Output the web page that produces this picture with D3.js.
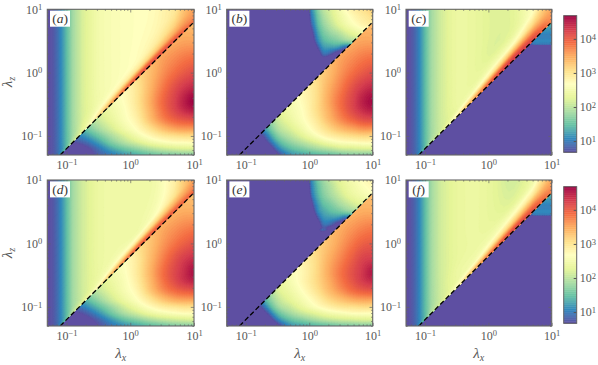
<!DOCTYPE html>
<html><head><meta charset="utf-8">
<script src="https://cdn.jsdelivr.net/npm/d3@7"></script>
<style>html,body{margin:0;background:#fff}svg{display:block}text{font-family:"Liberation Serif",serif;fill:#555;opacity:.99}</style>
</head><body><svg id="c" width="598" height="365"></svg>
<script>
const spectralStops=["#5e4fa2","#3288bd","#66c2a5","#abdda4","#e6f598","#ffffbf","#fee08b","#fdae61","#f46d43","#d53e4f","#9e0142"];
const vMin=0.67,vMax=4.68;
const majorTicks=[0.1,1,10];
const tickExponents=["\u22121","0","1"];
const barTicks=[10,100,1000,10000];
const barExponents=["1","2","3","4"];
const panelNames=["a","b","c","d","e","f"];
const diagonalRatio=0.63, diagonalEnds=[0.0794,9.6];
// upper-field grid: columns log10(lx), rows height above the diagonal
const UX=[-1.3,-1.2,-1.1,-1.0,-0.9,-0.75,-0.5,-0.2,0.1,0.4,0.7,0.85,1.0];
const UD=[0,.03,.07,.13,.25,.45,.8,1.3,1.8,2.55];
// lower-field grid: log10(lx), log10(lz)
const LX=[-1.1,-.9,-.7,-.5,-.3,-.1,.1,.3,.5,.7,.85,1];
const LZ=[-1.3,-1.2,-1.1,-1,-.9,-.75,-.6,-.45,-.25,0,.25,.5,.8];
// wedge grids
const WX=[-.1,-.02,.03,.08,.14,.22,.33,.45,.6,.75,.9,1];
const WZ=[.1,.2,.25,.3,.4,.5,.6,.75,.9,1];
const CX=[.6,.7,.85,1];
const CZ=[.4,.43,.45,.6,.8];
const upperA=[
[.68,.78,1.15,1.6,2.1,2.5,3.05,3.7,4.05,4.1,4.05,3.95,3.85],
[.68,.78,1.1,1.5,2.0,2.35,2.95,3.6,3.95,4.05,4.0,3.9,3.8],
[.68,.78,1.05,1.45,1.9,2.3,2.8,3.25,3.6,3.8,3.8,3.75,3.7],
[.68,.78,1.05,1.45,1.85,2.25,2.6,2.85,3.05,3.3,3.5,3.6,3.6],
[.68,.78,1.05,1.45,1.85,2.2,2.5,2.65,2.75,2.95,3.2,3.4,3.55],
[.68,.78,1.05,1.45,1.85,2.2,2.5,2.62,2.7,2.8,3.0,3.3,3.55],
[.68,.78,1.05,1.45,1.85,2.2,2.5,2.62,2.68,2.75,3.0,3.3,3.55],
[.68,.78,1.05,1.45,1.85,2.2,2.5,2.62,2.68,2.75,3.0,3.3,3.55],
[.68,.78,1.05,1.45,1.85,2.2,2.5,2.62,2.68,2.75,3.0,3.3,3.55],
[.68,.78,1.05,1.45,1.85,2.2,2.5,2.62,2.68,2.75,3.0,3.3,3.55]];
const lowerA=[
[.3,.35,.5,.8,1.0,1.2,1.35,1.5,1.6,1.65,1.7,1.7],
[.4,.4,.6,.95,1.3,1.55,1.75,1.95,2.1,2.2,2.25,2.25],
[.6,.7,.9,1.25,1.65,1.95,2.2,2.45,2.6,2.7,2.7,2.75],
[.8,.95,1.2,1.55,1.9,2.2,2.5,2.75,2.95,3.05,3.1,3.1],
[1.1,1.2,1.5,1.85,2.15,2.45,2.7,3.0,3.3,3.5,3.55,3.55],
[1.5,1.6,1.85,2.1,2.35,2.6,2.85,3.3,3.7,3.95,4.05,4.1],
[1.7,1.8,2.0,2.25,2.45,2.65,2.95,3.4,3.85,4.2,4.4,4.5],
[1.9,2.0,2.15,2.35,2.55,2.7,3.0,3.45,3.9,4.25,4.5,4.7],
[2.0,2.1,2.25,2.4,2.6,2.75,3.0,3.4,3.8,4.15,4.35,4.45],
[2.1,2.2,2.35,2.5,2.7,2.9,3.1,3.35,3.65,3.9,4.05,4.15],
[2.2,2.3,2.45,2.7,2.9,3,3.15,3.35,3.55,3.7,3.8,3.85],
[2.3,2.4,2.6,2.8,3,3.1,3.2,3.3,3.4,3.5,3.55,3.55],
[2.4,2.5,2.7,2.9,3.05,3.1,3.2,3.3,3.35,3.4,3.4,3.4]];
const wedgeB=[
[-1,-1,-1,-1,-1,-1,-1,-1,-1,-1,-1,-1],
[-1,-1,-1,-1,-.2,.2,-.1,-.5,-1,-1,-1,-1],
[-1,-1,-1,-.5,.2,.7,.5,.1,-.5,-.5,-.5,-.5],
[-1,-1,-1,-.2,.4,.95,.85,.45,.1,.1,.1,.1],
[-1,-1,-.6,.2,.8,1.2,1.25,1.2,.85,1.3,1.5,1.6],
[-1,-1,-.1,.65,1.1,1.4,1.55,1.65,1.8,1.95,2.05,2.15],
[-1,-.6,.3,.85,1.25,1.55,1.75,1.9,2.15,2.35,2.45,2.55],
[-1,-.1,.75,1.1,1.45,1.75,2.0,2.25,2.5,2.7,2.85,2.9],
[-1,.2,.95,1.25,1.6,1.9,2.15,2.4,2.65,2.85,3.0,3.1],
[-1,.45,1.05,1.35,1.7,2,2.2,2.45,2.75,2.95,3.1,3.2]];
const lowerB=[
[-1,-1,-.5,.6,1.15,1.3,1.4,1.5,1.6,1.7,1.7,1.7],
[-1,-1,-.1,1.0,1.45,1.65,1.85,2.0,2.15,2.2,2.25,2.25],
[-1,-.5,.5,1.35,1.75,2.0,2.25,2.5,2.65,2.7,2.75,2.75],
[-1,0,.85,1.65,2.0,2.3,2.6,2.85,3.0,3.1,3.15,3.15],
[-1,.3,1.2,1.9,2.2,2.5,2.8,3.1,3.35,3.5,3.6,3.6],
[-.5,.6,1.5,2.1,2.4,2.65,2.95,3.35,3.7,3.95,4.1,4.15],
[0,.9,1.7,2.25,2.5,2.7,3.05,3.45,3.85,4.2,4.4,4.5],
[.4,1.2,1.9,2.35,2.55,2.75,3.05,3.5,3.9,4.25,4.5,4.65],
[.8,1.5,2.0,2.4,2.6,2.8,3.05,3.45,3.8,4.15,4.35,4.45],
[1,1.7,2.1,2.5,2.7,2.9,3.1,3.35,3.65,3.9,4.05,4.15],
[1.2,1.8,2.2,2.6,2.8,3,3.15,3.35,3.55,3.7,3.8,3.85],
[1.4,1.9,2.3,2.7,2.9,3.1,3.2,3.3,3.4,3.5,3.55,3.55],
[1.5,2,2.4,2.8,3,3.1,3.2,3.3,3.35,3.4,3.4,3.4]];
const upperC=[
[.68,.78,1.15,1.6,2.05,2.3,2.9,3.6,4.1,4.3,4.2,3.95,3.7],
[.68,.78,1.1,1.5,1.95,2.2,2.75,3.45,4.0,4.25,4.15,3.95,3.7],
[.68,.78,1.05,1.45,1.9,2.15,2.55,3.1,3.65,4.0,4.0,3.85,3.65],
[.68,.78,1.05,1.45,1.85,2.15,2.4,2.65,3.05,3.5,3.7,3.65,3.6],
[.68,.78,1.05,1.45,1.85,2.15,2.4,2.4,2.55,2.75,3.15,3.35,3.5],
[.68,.78,1.05,1.45,1.85,2.15,2.4,2.35,2.25,2.35,2.7,3.1,3.45],
[.68,.78,1.05,1.45,1.85,2.15,2.4,2.35,2.25,2.3,2.7,3.1,3.45],
[.68,.78,1.05,1.45,1.85,2.15,2.4,2.35,2.25,2.3,2.7,3.1,3.45],
[.68,.78,1.05,1.45,1.85,2.15,2.4,2.35,2.25,2.3,2.7,3.1,3.45],
[.68,.78,1.05,1.45,1.85,2.15,2.4,2.35,2.25,2.3,2.7,3.1,3.45]];
const lowerC=[[-1,-1,-1,-1],[-1,-.2,-.2,-.2],[.3,.95,1,1],[.9,1,1.05,1.05],[1.3,1.3,1.4,1.4]];
const upperD=[
[.68,.78,1.15,1.6,2.05,2.45,2.9,3.55,3.95,4.0,4.0,3.95,4.0],
[.68,.78,1.1,1.5,2.0,2.3,2.75,3.4,3.85,3.95,3.95,3.9,3.9],
[.68,.78,1.05,1.45,1.9,2.2,2.55,3.05,3.5,3.7,3.75,3.75,3.75],
[.68,.78,1.05,1.45,1.85,2.15,2.45,2.7,2.9,3.2,3.45,3.55,3.65],
[.68,.78,1.05,1.45,1.85,2.15,2.4,2.5,2.5,2.7,3.05,3.3,3.55],
[.68,.78,1.05,1.45,1.85,2.15,2.4,2.45,2.45,2.55,2.9,3.25,3.55],
[.68,.78,1.05,1.45,1.85,2.15,2.4,2.45,2.45,2.5,2.9,3.25,3.55],
[.68,.78,1.05,1.45,1.85,2.15,2.4,2.45,2.45,2.5,2.9,3.25,3.55],
[.68,.78,1.05,1.45,1.85,2.15,2.4,2.45,2.45,2.5,2.9,3.25,3.55],
[.68,.78,1.05,1.45,1.85,2.15,2.4,2.45,2.45,2.5,2.9,3.25,3.55]];
const lowerD=[
[.3,.3,.45,.7,.95,1.15,1.3,1.45,1.55,1.65,1.7,1.7],
[.35,.4,.55,.85,1.2,1.5,1.7,1.9,2.05,2.15,2.2,2.25],
[.55,.6,.8,1.15,1.55,1.9,2.15,2.4,2.55,2.65,2.7,2.7],
[.8,.85,1.1,1.45,1.8,2.15,2.45,2.7,2.9,3.0,3.05,3.05],
[1.1,1.15,1.4,1.75,2.1,2.4,2.65,2.95,3.25,3.45,3.5,3.5],
[1.5,1.55,1.8,2.05,2.3,2.55,2.8,3.25,3.65,3.9,4.0,4.05],
[1.7,1.75,2.0,2.2,2.4,2.6,2.9,3.35,3.8,4.15,4.35,4.45],
[1.9,2.0,2.1,2.3,2.5,2.65,2.95,3.4,3.85,4.2,4.4,4.6],
[2.0,2.1,2.2,2.35,2.55,2.7,2.95,3.35,3.75,4.1,4.3,4.4],
[2.1,2.2,2.3,2.45,2.65,2.85,3.05,3.3,3.6,3.85,4.0,4.1],
[2.2,2.3,2.45,2.65,2.85,2.95,3.1,3.3,3.5,3.65,3.75,3.8],
[2.3,2.4,2.6,2.8,2.95,3.05,3.15,3.25,3.35,3.45,3.5,3.5],
[2.4,2.5,2.7,2.9,3,3.05,3.15,3.25,3.3,3.35,3.35,3.35]];
const wedgeE=[
[-1,-1,-1,-1,-1,-1,-1,-1,-1,-1,-1,-1],
[-1,-1,-1,-1,.45,.75,.3,-.3,-1,-1,-1,-1],
[-1,-1,-1,-.4,.3,.8,.55,.1,-.5,-.5,-.5,-.5],
[-1,-1,-1,-.2,.4,.95,.9,.5,.1,.1,.1,.1],
[-1,-1,-.6,.2,.8,1.15,1.2,1.15,.85,1.2,1.4,1.5],
[-1,-1,-.1,.65,1.1,1.3,1.45,1.55,1.7,1.85,1.95,2.0],
[-1,-.6,.3,.9,1.2,1.45,1.6,1.8,2.0,2.2,2.3,2.35],
[-1,-.1,.8,1.15,1.4,1.65,1.85,2.05,2.3,2.45,2.55,2.65],
[-1,.2,.95,1.25,1.5,1.75,1.95,2.2,2.4,2.55,2.7,2.75],
[-1,.45,1.05,1.3,1.6,1.8,2.05,2.25,2.45,2.6,2.75,2.8]];
const lowerE=[
[-1,-1,-.5,.55,1.15,1.3,1.4,1.5,1.6,1.65,1.7,1.7],
[-1,-1,0,1.05,1.5,1.7,1.9,2.05,2.15,2.2,2.25,2.25],
[-1,-.5,.55,1.45,1.85,2.1,2.3,2.5,2.6,2.7,2.7,2.7],
[-1,0,1.0,1.8,2.1,2.4,2.65,2.85,3.0,3.05,3.1,3.1],
[-1,.3,1.35,2.0,2.3,2.55,2.8,3.1,3.3,3.45,3.5,3.5],
[-.5,.6,1.6,2.2,2.45,2.7,3.0,3.35,3.65,3.9,4.0,4.05],
[0,.9,1.8,2.3,2.55,2.8,3.1,3.45,3.8,4.1,4.3,4.4],
[.4,1.2,1.95,2.4,2.6,2.8,3.1,3.5,3.85,4.15,4.35,4.55],
[.8,1.5,2.05,2.45,2.65,2.85,3.1,3.45,3.75,4.05,4.25,4.3],
[1,1.7,2.15,2.55,2.75,2.95,3.15,3.35,3.6,3.85,4,4.05],
[1.2,1.8,2.25,2.65,2.85,3.05,3.2,3.35,3.5,3.65,3.75,3.8],
[1.4,1.9,2.35,2.75,2.95,3.1,3.2,3.3,3.4,3.45,3.5,3.5],
[1.5,2,2.45,2.85,3,3.1,3.2,3.3,3.3,3.35,3.35,3.35]];
const upperF=[
[.68,.78,1.15,1.6,2.05,2.3,2.8,3.45,3.95,4.15,4.15,3.95,3.75],
[.68,.78,1.1,1.5,1.95,2.2,2.65,3.3,3.8,4.1,4.05,3.9,3.75],
[.68,.78,1.05,1.45,1.9,2.15,2.5,2.95,3.45,3.8,3.9,3.8,3.7],
[.68,.78,1.05,1.45,1.85,2.15,2.4,2.6,2.95,3.3,3.6,3.6,3.6],
[.68,.78,1.05,1.45,1.85,2.15,2.4,2.45,2.55,2.75,3.0,3.25,3.45],
[.68,.78,1.05,1.45,1.85,2.15,2.35,2.4,2.35,2.3,2.5,2.9,3.3],
[.68,.78,1.05,1.45,1.85,2.15,2.35,2.4,2.3,2.15,2.35,2.8,3.2],
[.68,.78,1.05,1.45,1.85,2.15,2.35,2.4,2.3,2.1,2.3,2.8,3.2],
[.68,.78,1.05,1.45,1.85,2.15,2.35,2.4,2.3,2.1,2.3,2.8,3.2],
[.68,.78,1.05,1.45,1.85,2.15,2.35,2.4,2.3,2.1,2.3,2.8,3.2]];
const lowerF=[[-1,-1,-1,-1],[-1,-.2,-.2,-.2],[.3,.95,1,1],[.9,1,1.05,1.05],[1.3,1.3,1.4,1.4]];

const panelFields=[
 {up:upperA,upX:UX,upZ:UD,shear:true,lo:lowerA,loX:LX,loZ:LZ},
 {up:wedgeB,upX:WX,upZ:WZ,shear:false,lo:lowerB,loX:LX,loZ:LZ},
 {up:upperC,upX:UX,upZ:UD,shear:true,lo:lowerC,loX:CX,loZ:CZ},
 {up:upperD,upX:UX,upZ:UD,shear:true,lo:lowerD,loX:LX,loZ:LZ},
 {up:wedgeE,upX:WX,upZ:WZ,shear:false,lo:lowerE,loX:LX,loZ:LZ},
 {up:upperF,upX:UX,upZ:UD,shear:true,lo:lowerF,loX:CX,loZ:CZ}];

const svg=d3.select("#c");
const frame="#666";
const color=d3.scaleLinear().domain(spectralStops.map((_,i)=>vMin+(vMax-vMin)*i/10)).range(spectralStops).clamp(true);
const levels=d3.range(vMin+0.04,vMax+0.02,0.04);
const lefts=[47.3,226.7,406],rights=[194,372.7,551.7],tops=[9.3,180],bottoms=[155,326];
const minors=[];[0.01,0.1,1].forEach(d=>d3.range(2,10).forEach(m=>{const v=d*m;if(v>=0.05&&v<=10)minors.push(v)}));

function cr(p0,p1,p2,p3,t){return 0.5*((2*p1)+(-p0+p2)*t+(2*p0-5*p1+4*p2-p3)*t*t+(-p0+3*p1-3*p2+p3)*t*t*t)}
function refine(rows,k){
 const ny=rows.length,nx=rows[0].length,NX=(nx-1)*k+1,NY=(ny-1)*k+1,at=(j,i)=>rows[Math.max(0,Math.min(ny-1,j))][Math.max(0,Math.min(nx-1,i))];
 const out=new Array(NX*NY);
 for(let J=0;J<NY;J++)for(let I=0;I<NX;I++){
  const j=Math.min(ny-2,Math.floor(J/k)),i=Math.min(nx-2,Math.floor(I/k)),ty=J/k-j,tx=I/k-i;
  const c=[-1,0,1,2].map(dj=>cr(at(j+dj,i-1),at(j+dj,i),at(j+dj,i+1),at(j+dj,i+2),tx));
  out[J*NX+I]=cr(c[0],c[1],c[2],c[3],ty);
 }
 return {values:out,NX,NY};
}
function drawField(g,rows,xs,zs,shear,x,y){
 const k=4,{values,NX,NY}=refine(rows,k);
 const ix=d3.scaleLinear().domain(xs.map((_,i)=>i*k)).range(xs);
 const iz=d3.scaleLinear().domain(zs.map((_,i)=>i*k)).range(zs);
 const off=Math.log10(diagonalRatio);
 const path=d3.geoPath(d3.geoTransform({point(cx,cy){
  const X=ix(cx-.5),Z=iz(cy-.5)+(shear?X+off:0);
  this.stream.point(x(Math.pow(10,X)),y(Math.pow(10,Z)));
 }}));
 const cs=d3.contours().size([NX,NY]).thresholds(levels)(values);
 g.selectAll(null).data(cs).join("path").attr("d",path).attr("fill",d=>color(d.value)).attr("stroke",d=>color(d.value)).attr("stroke-width",0.25);
}
function expLabel(sel,exps){
 sel.each(function(d,i){const t=d3.select(this);t.text("10");t.append("tspan").attr("dy","-0.42em").attr("font-size","8.5px").text(exps[i]);});
}
panelNames.forEach((name,idx)=>{
 const col=idx%3,row=idx<3?0:1,f=panelFields[idx];
 const x=d3.scaleLog().domain([0.05,10]).range([lefts[col],rights[col]]);
 const y=d3.scaleLog().domain([0.05,10]).range([bottoms[row],tops[row]]);
 const g=svg.append("g");
 g.append("clipPath").attr("id","ax"+name).append("rect").attr("x",x(.05)).attr("y",y(10)).attr("width",x(10)-x(.05)).attr("height",y(.05)-y(10));
 const upperPoly=[[.05,.05*diagonalRatio],[10,10*diagonalRatio],[10,10],[.05,10]].map(p=>[x(p[0]),y(p[1])]);
 g.append("clipPath").attr("id","up"+name).append("polygon").attr("points",upperPoly.join(" "));
 const plot=g.append("g").attr("clip-path",`url(#ax${name})`);
 plot.append("rect").attr("x",x(.05)).attr("y",y(10)).attr("width",x(10)-x(.05)).attr("height",y(.05)-y(10)).attr("fill",spectralStops[0]);
 drawField(plot.append("g"),f.lo,f.loX,f.loZ,false,x,y);
 const up=plot.append("g").attr("clip-path",`url(#up${name})`);
 up.append("polygon").attr("points",upperPoly.join(" ")).attr("fill",spectralStops[0]);
 drawField(up,f.up,f.upX,f.upZ,f.shear,x,y);
 plot.append("line").attr("x1",x(diagonalEnds[0])).attr("y1",y(diagonalEnds[0]*diagonalRatio)).attr("x2",x(diagonalEnds[1])).attr("y2",y(diagonalEnds[1]*diagonalRatio)).attr("stroke","#000").attr("stroke-width",1.3).attr("stroke-dasharray","5 2.6");
 const axisStyle=(a,labels)=>{a.select(".domain").remove();a.selectAll("line").attr("stroke",frame).attr("stroke-width",.7);if(!labels)a.selectAll("text").remove();};
 const b=y(.05),t=y(10),l=x(.05),r=x(10);
 [[d3.axisBottom(x).tickValues(minors).tickSize(-1.6).tickFormat(""),b],[d3.axisTop(x).tickValues(minors).tickSize(-1.6).tickFormat(""),t],[d3.axisTop(x).tickValues(majorTicks).tickSize(3.2).tickFormat(""),b],[d3.axisBottom(x).tickValues(majorTicks).tickSize(3.2).tickFormat(""),t]].forEach(([a,p])=>{g.append("g").attr("transform",`translate(0,${p})`).call(a).call(s=>axisStyle(s,false));});
 [[d3.axisLeft(y).tickValues(minors).tickSize(-1.6).tickFormat(""),l],[d3.axisRight(y).tickValues(minors).tickSize(-1.6).tickFormat(""),r],[d3.axisRight(y).tickValues(majorTicks).tickSize(3.2).tickFormat(""),l],[d3.axisLeft(y).tickValues(majorTicks).tickSize(3.2).tickFormat(""),r]].forEach(([a,p])=>{g.append("g").attr("transform",`translate(${p},0)`).call(a).call(s=>axisStyle(s,false));});
 const xl=g.append("g").attr("transform",`translate(0,${b})`).call(d3.axisBottom(x).tickValues(majorTicks).tickSize(0).tickPadding(0));
 xl.select(".domain").remove();
 xl.selectAll("text").attr("dy",0).attr("y",13.5).attr("font-size","12px").call(expLabel,tickExponents);
 const yl=g.append("g").attr("transform",`translate(${l},0)`).call(d3.axisLeft(y).tickValues(majorTicks).tickSize(0).tickPadding(0));
 yl.select(".domain").remove();
 yl.selectAll("text").attr("dy",0).attr("x",-5).attr("y",3.8).attr("font-size","12px").call(expLabel,tickExponents);
 g.append("rect").attr("x",l).attr("y",t).attr("width",r-l).attr("height",b-t).attr("fill","none").attr("stroke",frame).attr("stroke-width",1.1);
 g.append("rect").attr("x",l+2.7).attr("y",t+1.4).attr("width",20).attr("height",16).attr("fill","#fff");
 const tag=g.append("text").attr("x",l+12.7).attr("y",t+13.5).attr("text-anchor","middle").attr("font-size","13.5px").style("fill","#333");
 tag.append("tspan").text("(");tag.append("tspan").attr("font-style","italic").text(name);tag.append("tspan").text(")");
 if(row===1){const T=g.append("text").attr("x",(l+r)/2).attr("y",358).attr("text-anchor","middle").attr("font-size","15px");
  T.append("tspan").attr("font-style","italic").text("\u03bb");T.append("tspan").attr("font-style","italic").attr("font-size","10px").attr("dy","2.5").text("x");}
 if(col===0){const T=g.append("text").attr("transform",`translate(12,${(t+b)/2}) rotate(-90)`).attr("text-anchor","middle").attr("font-size","15px");
  T.append("tspan").attr("font-style","italic").text("\u03bb");T.append("tspan").attr("font-style","italic").attr("font-size","10px").attr("dy","2.5").text("z");}
});
[[15.7,152.3],[186.7,323.3]].forEach(([t,b],i)=>{
 const g=svg.append("g"),l=563.7,r=576.7;
 const s=d3.scaleLog().domain([Math.pow(10,vMin),Math.pow(10,vMax)]).range([b,t]);
 const vs=d3.range(vMin,vMax,0.02);
 g.selectAll(null).data(vs).join("rect").attr("x",l).attr("width",r-l).attr("y",d=>s(Math.pow(10,d+0.02))).attr("height",d=>s(Math.pow(10,d))-s(Math.pow(10,d+0.02))+.4).attr("fill",d=>color(d));
 const inner=g.append("g").attr("transform",`translate(${r},0)`).call(d3.axisLeft(s).tickValues(barTicks).tickSize(3).tickFormat(""));
 inner.select(".domain").remove();inner.selectAll("text").remove();inner.selectAll("line").attr("stroke","#555");
 const a=g.append("g").attr("transform",`translate(${r},0)`).call(d3.axisRight(s).tickValues(barTicks).tickSize(0).tickPadding(3));
 a.select(".domain").remove();
 a.selectAll("text").attr("dy",0).attr("y",3.8).attr("font-size","12px").call(expLabel,barExponents);
 g.append("rect").attr("x",l).attr("y",t).attr("width",r-l).attr("height",b-t).attr("fill","none").attr("stroke",frame).attr("stroke-width",1);
});
</script></body></html>
